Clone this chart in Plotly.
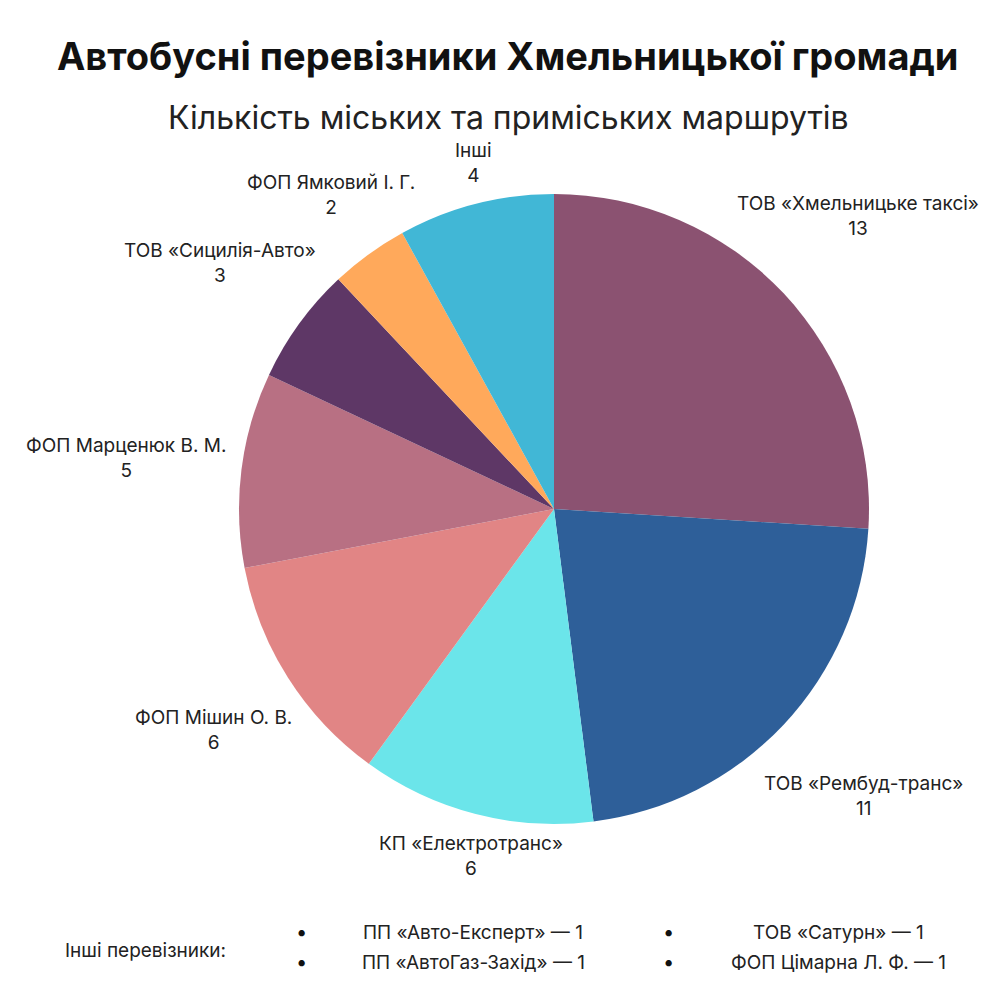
import plotly.graph_objects as go

labels = ["ТОВ «Хмельницьке таксі»", "ТОВ «Рембуд-транс»", "КП «Електротранс»", "ФОП Мішин О. В.",
          "ФОП Марценюк В. М.", "ТОВ «Сицилія-Авто»", "ФОП Ямковий І. Г.", "Інші"]
values = [13, 11, 6, 6, 5, 3, 2, 4]
colors = ["#8B5271", "#2E5F99", "#6BE5EA", "#E18585", "#B87083", "#5E3766", "#FFA95B", "#41B7D6"]
others = ["ПП «Авто-Експерт» — 1", "ПП «АвтоГаз-Захід» — 1", "ТОВ «Сатурн» — 1", "ФОП Цімарна Л. Ф. — 1"]

# label centre positions (paper fractions)
label_pos = [(0.85, 0.792), (0.855, 0.212), (0.463, 0.152), (0.205, 0.278),
             (0.118, 0.55), (0.212, 0.745), (0.323, 0.813), (0.465, 0.845)]

F = "Inter"
fig = go.Figure(go.Pie(
    labels=labels, values=values, sort=False, direction="clockwise", rotation=0,
    marker=dict(colors=colors), textinfo="none", showlegend=False, hoverinfo="label+value",
    domain=dict(x=[0.231, 0.861], y=[0.184, 0.814]),
))
ann = [
    dict(text="<b>Автобусні перевізники Хмельницької громади</b>", x=0.5, y=0.952, font=dict(size=38, color="#111", family=F)),
    dict(text="Кількість міських та приміських маршрутів", x=0.5, y=0.89, font=dict(size=32, color="#222", family=F)),
    dict(text="Інші перевізники:", x=0.137, y=0.058, font=dict(size=19, color="#222", family=F)),
]
for l, v, (x, y) in zip(labels, values, label_pos):
    ann.append(dict(text=f"{l}<br>{v}", x=x, y=y, font=dict(size=19, color="#222", family=F)))
pos = [(0.465, 0.076), (0.465, 0.046), (0.83, 0.076), (0.83, 0.046)]
for t, (x, y) in zip(others, pos):
    ann.append(dict(text=t, x=x, y=y, font=dict(size=19, color="#222", family=F)))
for x in (0.293, 0.66):
    for y in (0.076, 0.046):
        ann.append(dict(text="•", x=x, y=y, font=dict(size=20, color="#111", family=F)))
for a in ann:
    a.update(xref="paper", yref="paper", showarrow=False, xanchor="center", yanchor="middle")
fig.update_layout(width=1000, height=1000, margin=dict(l=0, r=0, t=0, b=0),
                  paper_bgcolor="white", annotations=ann)
fig.write_html("out.html")
